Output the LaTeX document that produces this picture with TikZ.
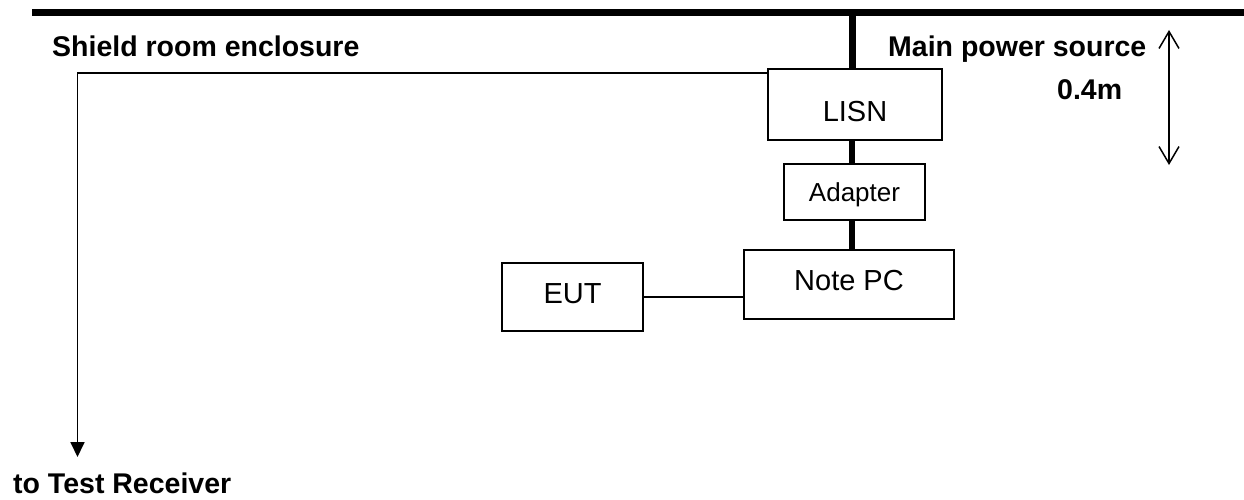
\documentclass[tikz,border=0pt]{standalone}
\usepackage{fontspec}
\setmainfont{Liberation Sans}
\usetikzlibrary{arrows.meta}
\begin{document}
\begin{tikzpicture}[x=1pt,y=-1pt,
  box/.style={draw,line width=1.8pt,inner sep=0pt,text depth=0pt,font=\fontsize{29}{34}\selectfont},
  busline/.style={line width=7pt},
  wire/.style={line width=1.8pt},
  lbl/.style={font=\bfseries\fontsize{28.5}{34}\selectfont,inner sep=0pt,anchor=base west}]
\useasboundingbox (0,0) rectangle (1244,500);
% boxes
\node[box,minimum width=174pt,minimum height=71pt,text height=34pt] (lisn) at (855,104.5) {LISN};
\node[box,minimum width=141pt,minimum height=56pt,text height=19pt,font=\fontsize{26}{30}\selectfont] (adapter) at (854.5,192) {Adapter};
\node[box,minimum width=210pt,minimum height=69pt,text height=12pt] (pc) at (849,284.5) {Note PC};
\node[box,minimum width=141pt,minimum height=68pt,text height=12pt] (eut) at (572.5,297) {EUT};
% main bus
\coordinate (barL) at (32,12.5);
\coordinate (barR) at (1244,12.5);
\draw[busline] (barL) -- (barR);
\coordinate (bus) at (852,12.5);
\draw[busline] (bus) -- (bus |- lisn.north);
\draw[line width=6.5pt] (bus |- lisn.south) -- (bus |- adapter.north);
\draw[line width=6.5pt] (bus |- adapter.south) -- (bus |- pc.north);
% EUT link
\draw[wire] (eut.east) -- (eut.east -| pc.west);
% receiver line
\coordinate (corner) at (77.5,73);
\coordinate (rx) at (77.5,457);
\draw[wire,-{Triangle[length=15pt,width=14pt]}] (corner -| lisn.west) -- (corner) -- (rx);
% dimension arrow
\coordinate (dtop) at (1169,30);
\coordinate (dbot) at (1169,165);
\draw[line width=1.5pt,{Straight Barb[length=17pt,width=20pt]}-{Straight Barb[length=17pt,width=20pt]}] (dtop) -- (dbot);
% labels
\node[lbl] (shield) at (52,57) {Shield room enclosure};
\node[lbl] (mains) at (888,57) {Main power source};
\node[lbl] (dist) at (1057,100) {0.4m};
\node[lbl] (recv) at (13,493) {to Test Receiver};
\end{tikzpicture}
\end{document}
